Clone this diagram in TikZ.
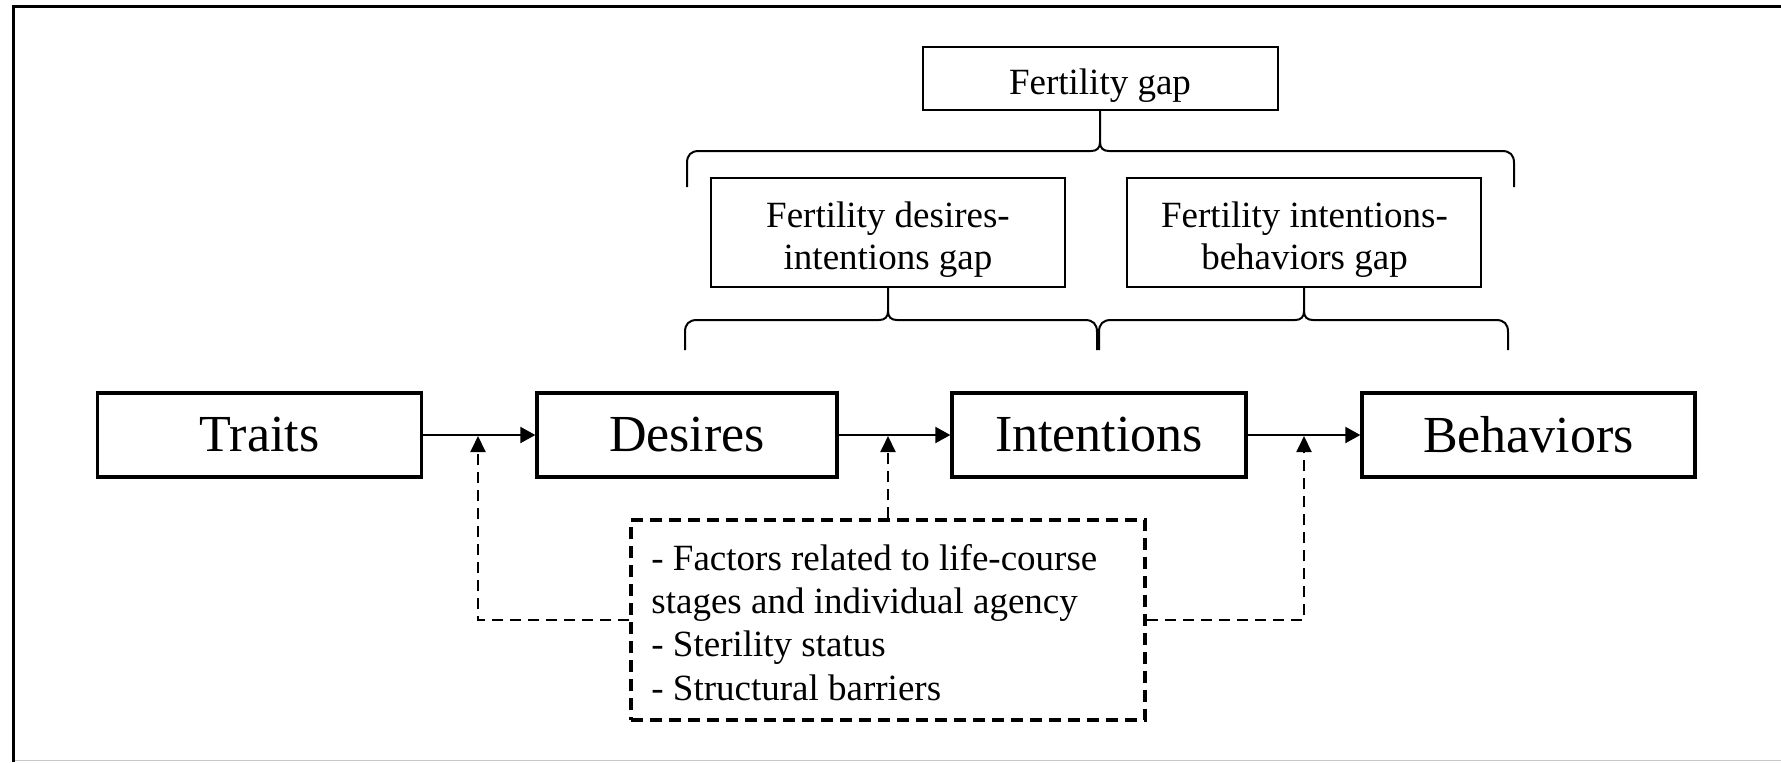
\documentclass[tikz,border=0pt]{standalone}
\usepackage{fontspec}
\setmainfont{Liberation Serif}
\usetikzlibrary{arrows.meta}
\definecolor{framegray}{RGB}{200,200,200}
\newcommand\gapbrace[6]{% xL xm xR yh ye yt
  \draw[bracepath] (#1,#5) -- (#1,#4+12) .. controls (#1,#4+4) and (#1+4,#4) .. (#1+12,#4) -- (#2-9,#4) .. controls (#2-3,#4) and (#2,#4-3) .. (#2,#4-9) -- (#2,#6);
  \draw[bracepath] (#3,#5) -- (#3,#4+12) .. controls (#3,#4+4) and (#3-4,#4) .. (#3-12,#4) -- (#2+9,#4) .. controls (#2+3,#4) and (#2,#4-3) .. (#2,#4-9);
}
\begin{document}
\begin{tikzpicture}[x=0.5pt,y=-0.5pt,
  mainbox/.style={draw, line width=1.65pt, inner sep=0pt, minimum height=42pt, font=\fontsize{26}{30}\selectfont},
  gapbox/.style={draw, line width=0.8pt, inner sep=0pt},
  gaptext/.style={inner sep=0pt, align=center, font=\fontsize{18.5}{21}\selectfont},
  flow/.style={line width=1pt, -{Triangle[length=7.5pt,width=8pt]}},
  infl/.style={line width=1pt, dash pattern=on 5.5pt off 3.5pt, -{Triangle[length=8pt,width=7.5pt]}},
  facbox/.style={draw, line width=1.75pt, dash pattern=on 6pt off 3.5pt, inner sep=0pt},
  bracepath/.style={line width=1pt}
]
\useasboundingbox (0,0) rectangle (1781,762);
% frame
\draw[line width=1.75pt, line join=miter] (13.5,762) -- (13.5,6.5) -- (1781,6.5);
\draw[line width=0.75pt, framegray] (15,760.5) -- (1781,760.5);

% main boxes
\node[mainbox, minimum width=162pt] (traits) at (259.5,435) {Traits};
\node[mainbox, minimum width=150pt] (desires) at (687,435) {Desires};
\node[mainbox, minimum width=147pt] (intentions) at (1099,435) {Intentions};
\node[mainbox, minimum width=166.5pt] (behaviors) at (1528.5,435) {Behaviors};

% gap boxes
\node[gapbox, minimum width=177.5pt, minimum height=31.5pt] (fg) at (1100.5,78.5) {};
\node[gapbox, minimum width=177pt, minimum height=54.5pt] (dig) at (888,232.5) {};
\node[gapbox, minimum width=177pt, minimum height=54.5pt] (ibg) at (1304,232.5) {};
\node[gaptext] (fgt) at (1100,85.5) {Fertility gap};
\node[gaptext] (digt) at (888,239.5) {Fertility desires-\\intentions gap};
\node[gaptext] (ibgt) at (1304.5,239.5) {Fertility intentions-\\behaviors gap};

% braces
\gapbrace{687}{1100}{1514}{151}{187}{110}
\gapbrace{685}{888}{1097}{320}{350}{287}
\gapbrace{1099}{1304}{1508}{320}{350}{287}

% factors box
\node[facbox, minimum width=257pt, minimum height=100pt] (fac) at (888,620) {};
\node[gaptext, align=left, anchor=west, font=\fontsize{18.5}{21.65}\selectfont] (fact) at (651,622.4) {- Factors related to life-course\\stages and individual agency\\- Sterility status\\- Structural barriers};

% flow arrows
\draw[flow] (traits) -- (desires);
\draw[flow] (desires) -- (intentions);
\draw[flow] (intentions) -- (behaviors);

% influence arrows
\coordinate (a1) at (478,436);
\coordinate (a2) at (888,436);
\coordinate (a3) at (1304,436);
\draw[infl] (fac.west) -| (a1);
\draw[infl] (fac.north) -- (a2);
\draw[infl] (fac.east) -| (a3);
\end{tikzpicture}
\end{document}
